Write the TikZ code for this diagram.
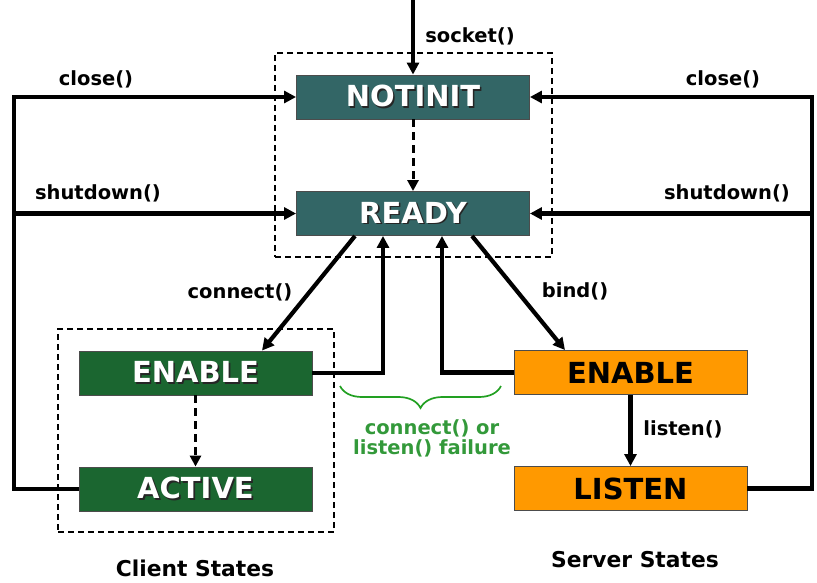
\documentclass[tikz,border=0pt]{standalone}
\usepackage{fontspec}
\setmainfont{DejaVu Sans}
\usetikzlibrary{arrows.meta,decorations.pathreplacing,calc}

\definecolor{stateteal}{HTML}{336666}
\definecolor{clientgreen}{HTML}{1B6630}
\definecolor{serverorange}{HTML}{FF9900}
\definecolor{notegreen}{HTML}{33993A}
\definecolor{bracegreen}{HTML}{22A022}

% white caption with a dark drop shadow
\newcommand\shadowed[1]{\rlap{\kern1.6pt\raisebox{-1.6pt}{\textcolor{black!85}{#1}}}#1}

\tikzset{
  statebox/.style={draw=black!70, line width=0.9pt, minimum width=233pt,
    minimum height=44pt, inner sep=0pt,
    font=\fontsize{29}{32}\selectfont\bfseries},
  tealstate/.style={statebox, fill=stateteal, text=white},
  clientstate/.style={statebox, fill=clientgreen, text=white},
  serverstate/.style={statebox, fill=serverorange, text=black},
  flow/.style={line width=4.2pt, -{Triangle[length=12pt,width=12pt]}},
  dflow/.style={line width=3pt, dash pattern=on 8pt off 5pt,
    -{Triangle[length=11pt,width=11pt]}},
  groupframe/.style={draw=black, line width=1.9pt, dash pattern=on 6pt off 4pt,
    inner sep=0pt},
  call/.style={font=\fontsize{19.5}{21}\selectfont\bfseries, inner sep=0pt},
  title/.style={font=\fontsize{21.8}{24}\selectfont\bfseries, inner sep=0pt},
  note/.style={font=\fontsize{19.5}{19.5}\selectfont\bfseries, text=notegreen,
    align=center, inner sep=0pt},
}

\begin{document}
\begin{tikzpicture}[x=1pt,y=-1pt]
\useasboundingbox (0,0) rectangle (817,582);

% dashed group frames
\node[groupframe, minimum width=277pt, minimum height=204pt] (initgroup) at (413.5,155) {};
\node[groupframe, minimum width=276pt, minimum height=203pt] (clientgroup) at (196,430.5) {};

% states
\node[tealstate] (notinit) at (413,97) {\shadowed{NOTINIT}};
\node[tealstate] (ready) at (413,213.5) {\shadowed{READY}};
\node[clientstate] (cenable) at (195.5,373) {\shadowed{ENABLE}};
\node[clientstate] (active) at (195.5,489) {\shadowed{ACTIVE}};
\node[serverstate] (senable) at (630.5,372.5) {ENABLE};
\node[serverstate] (listen) at (630.5,488.5) {LISTEN};

% entry
\coordinate (entry) at (413,0);
\draw[flow] (entry) -- (notinit);
\draw[dflow] (notinit) -- (ready);
\draw[dflow] (cenable) -- (active);
\draw[flow] (senable) -- (listen);

% left loop back from the client side
\coordinate (lcorner) at (14,489);
\coordinate (ltop) at (14,97);
\coordinate (lmid) at (14,213.5);
\draw[flow, line join=miter] (active.west) -- (lcorner) -- (ltop) -- (notinit.west);
\draw[flow] (lmid) -- (ready.west);

% right loop back from the server side
\coordinate (rcorner) at (812,488.5);
\coordinate (rtop) at (812,97);
\coordinate (rmid) at (812,213.5);
\draw[flow, line join=miter] (listen.east) -- (rcorner) -- (rtop) -- (notinit.east);
\draw[flow] (rmid) -- (ready.east);

% READY to the client and server branches
\draw[flow] ([xshift=-58pt]ready.south) -- ([xshift=66.5pt]cenable.north);
\draw[flow] ([xshift=59pt]ready.south) -- ([xshift=-65.5pt]senable.north);

% failure returns
\coordinate (cret) at (383,373);
\coordinate (sret) at (442,372.5);
\draw[flow, line join=miter] (cenable.east) -- (cret) -- (cret |- ready.south);
\draw[flow, line join=miter] (senable.west) -- (sret) -- (sret |- ready.south);

% brace and note
\coordinate (bl) at (340,386);
\coordinate (br) at (501,386);
\draw[bracegreen, line width=1.7pt, decorate,
  decoration={brace, amplitude=22pt, aspect=0.5, mirror}] (bl) -- (br);
\node[note] (failnote) at (432,438.5) {connect() or\\listen() failure};

% call labels
\node[call] (socketlbl) at (470,36) {socket()};
\node[call] (lcloselbl) at (96,79) {close()};
\node[call] (lshutlbl) at (98,193) {shutdown()};
\node[call] (rcloselbl) at (723,79) {close()};
\node[call] (rshutlbl) at (727,193) {shutdown()};
\node[call] (connectlbl) at (240,292) {connect()};
\node[call] (bindlbl) at (575,291) {bind()};
\node[call] (listenlbl) at (683,429) {listen()};

% group titles
\node[title] (clienttitle) at (195,568) {Client States};
\node[title] (servertitle) at (635,560) {Server States};
\end{tikzpicture}
\end{document}
